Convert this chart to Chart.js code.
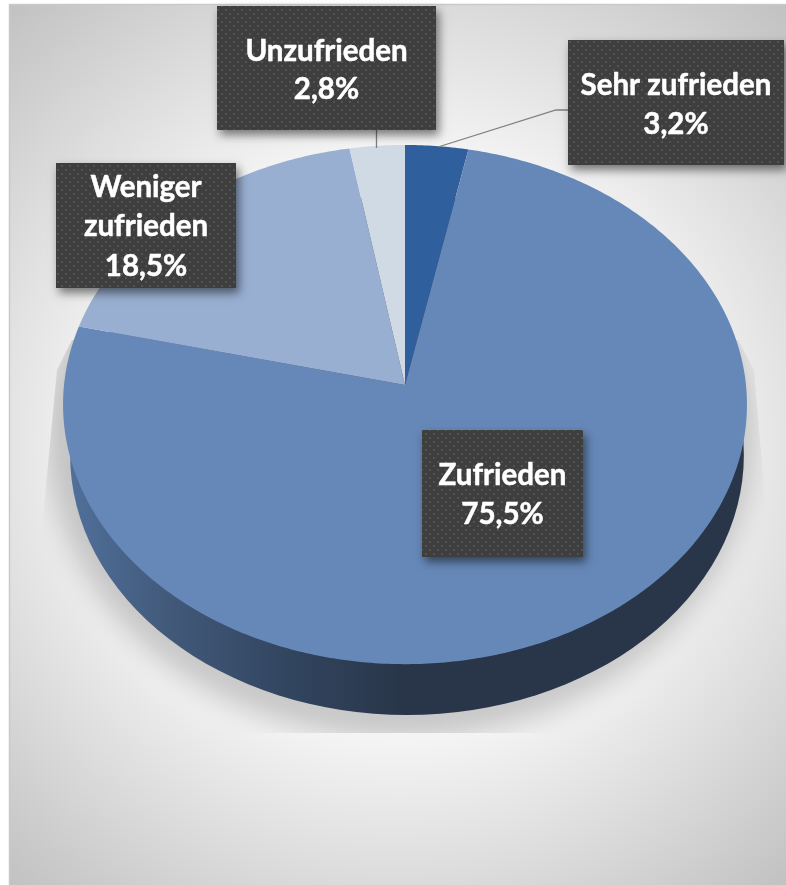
<!DOCTYPE html>
<html lang="de">
<head>
<meta charset="utf-8">
<title>Zufriedenheit</title>
<script src="https://cdn.jsdelivr.net/npm/chart.js@4"></script>
<style>
html,body{margin:0;padding:0;background:#fff}
canvas{display:block}
</style>
</head>
<body>
<canvas id="c" width="786" height="885"></canvas>
<script>
const categories = ['Sehr zufrieden', 'Zufrieden', 'Weniger zufrieden', 'Unzufrieden'];
const values = [3.2, 75.5, 18.5, 2.8];
const sliceColors = ['#2f5f9c', '#6688b8', '#99afd1', '#d0dae5'];
const labelLines = [['Sehr zufrieden'], ['Zufrieden'], ['Weniger', 'zufrieden'], ['Unzufrieden']];
const labelBoxes = [
  {x:568, y:40,  w:216, h:125, lineY:[85,124]},
  {x:422, y:430, w:161, h:127, lineY:[475,514]},
  {x:56,  y:163, w:180, h:125, lineY:[187,226,266]},
  {x:217, y:6,   w:219, h:124, lineY:[51,89]}
];

const TILT = 0.7547, PERSP = 0.0754, WIDTH_K = 0.997;

function project(arc, angle, rr) {
  const t = angle + Math.PI / 2, u = Math.sin(t), v = Math.cos(t), d = 1 + PERSP * v;
  return [arc.x + rr * WIDTH_K * u / d, arc.y - rr * TILT * v / d];
}

Chart.ArcElement.prototype.draw = function (ctx) {
  const r = this.outerRadius, a0 = this.startAngle, a1 = this.endAngle;
  const n = Math.max(4, Math.ceil((a1 - a0) * 90));
  ctx.save();
  ctx.beginPath();
  ctx.moveTo(this.x, this.y);
  for (let i = 0; i <= n; i++) {
    const p = project(this, a0 + (a1 - a0) * i / n, r);
    ctx.lineTo(p[0], p[1]);
  }
  ctx.closePath();
  ctx.fillStyle = this.options.backgroundColor;
  ctx.fill();
  ctx.restore();
};

function dotPattern(ctx) {
  const t = document.createElement('canvas');
  t.width = 8; t.height = 8;
  const g = t.getContext('2d');
  g.fillStyle = '#3e3e3e'; g.fillRect(0, 0, 8, 8);
  g.fillStyle = '#535353';
  g.fillRect(1, 1, 2, 2); g.fillRect(5, 5, 2, 2);
  return ctx.createPattern(t, 'repeat');
}

const scene = {
  id: 'scene',
  beforeDraw(chart) {
    const ctx = chart.ctx, W = chart.width, H = chart.height;
    ctx.save();
    ctx.fillStyle = '#fff'; ctx.fillRect(0, 0, W, H);
    const g = ctx.createRadialGradient(397, 445, 0, 397, 445, 590);
    g.addColorStop(0, '#fafafa');
    g.addColorStop(0.5, '#f4f4f4');
    g.addColorStop(1, '#c1c1c1');
    ctx.fillStyle = g; ctx.fillRect(9, 4, W - 9, H - 4);
    ctx.strokeStyle = '#c9c9c9'; ctx.lineWidth = 1.5;
    ctx.beginPath(); ctx.moveTo(9.5, H); ctx.lineTo(9.5, 4.5); ctx.lineTo(W, 4.5); ctx.stroke();
    ctx.restore();
  },
  beforeDatasetsDraw(chart) {
    const ctx = chart.ctx, arc = chart.getDatasetMeta(0).data[0], r = arc.outerRadius;
    const cx = arc.x + 2, cy = arc.y + 70, rx = r * 0.985, ry = r * 0.76;
    // soft shadow, cut off by its wedge-sided rectangle like the reference
    ctx.save();
    ctx.beginPath();
    ctx.moveTo(72, 340); ctx.lineTo(57, 370); ctx.lineTo(38, 570); ctx.lineTo(38, 733);
    ctx.lineTo(771, 733); ctx.lineTo(771, 570); ctx.lineTo(754, 370); ctx.lineTo(738, 340);
    ctx.closePath(); ctx.clip();
    ctx.shadowColor = 'rgba(0,0,0,0.18)';
    ctx.shadowBlur = 26;
    ctx.shadowOffsetX = 3000;
    ctx.fillStyle = '#000';
    ctx.beginPath();
    ctx.ellipse(arc.x - 5 - 3000, arc.y + 50, 352, 305, 0, 0, Math.PI * 2);
    ctx.fill();
    ctx.restore();
    // side wall
    ctx.save();
    const g = ctx.createLinearGradient(70, 0, 400, 0);
    g.addColorStop(0, '#50709a');
    g.addColorStop(0.3, '#42597a');
    g.addColorStop(0.65, '#324660');
    g.addColorStop(1, '#29364a');
    ctx.fillStyle = g;
    ctx.beginPath();
    ctx.ellipse(cx, cy, rx, ry, 0, 0, Math.PI * 2);
    ctx.fill();
    ctx.restore();
  },
  afterDatasetsDraw(chart) {
    const ctx = chart.ctx, pat = dotPattern(ctx);
    ctx.save();
    // leader lines
    ctx.strokeStyle = '#7f7f7f'; ctx.lineWidth = 1.3;
    ctx.beginPath();
    ctx.moveTo(568, 110); ctx.lineTo(556, 110); ctx.lineTo(438, 147);
    ctx.moveTo(376.5, 130); ctx.lineTo(376.5, 148);
    ctx.stroke();
    const data = chart.data.datasets[0].data;
    labelBoxes.forEach((b, i) => {
      ctx.save();
      ctx.shadowColor = 'rgba(0,0,0,0.5)';
      ctx.shadowBlur = 9; ctx.shadowOffsetX = 3; ctx.shadowOffsetY = 5;
      ctx.fillStyle = '#3e3e3e';
      ctx.fillRect(b.x, b.y, b.w, b.h);
      ctx.restore();
      ctx.fillStyle = pat;
      ctx.fillRect(b.x, b.y, b.w, b.h);
      const lines = labelLines[i].concat(data[i].toFixed(1).replace('.', ',') + '%');
      ctx.fillStyle = '#fff';
      ctx.strokeStyle = '#fff'; ctx.lineWidth = 0.5; ctx.lineJoin = 'round';
      ctx.font = '700 29.5px Lato, "Open Sans", sans-serif';
      ctx.textAlign = 'center'; ctx.textBaseline = 'middle';
      lines.forEach((s, k) => {
        ctx.fillText(s, b.x + b.w / 2, b.lineY[k]);
        ctx.strokeText(s, b.x + b.w / 2, b.lineY[k]);
      });
    });
    ctx.restore();
  }
};

new Chart(document.getElementById('c'), {
  type: 'pie',
  data: {
    labels: categories,
    datasets: [{ data: values, backgroundColor: sliceColors, borderWidth: 0, clip: false }]
  },
  options: {
    responsive: false,
    animation: false,
    layout: { padding: { left: 63, right: 39, top: 43, bottom: 158 } },
    plugins: { legend: { display: false }, tooltip: { enabled: false } }
  },
  plugins: [scene]
});
</script>
</body>
</html>
